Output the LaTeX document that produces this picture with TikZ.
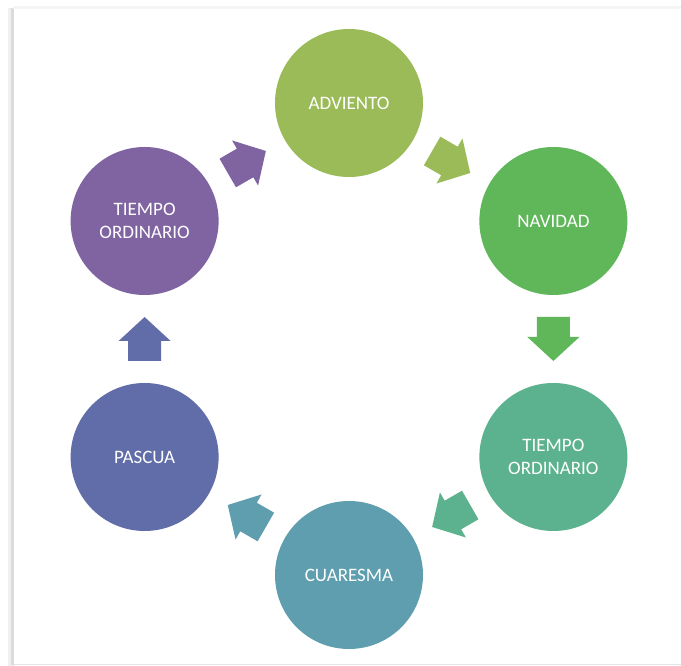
\documentclass[tikz,border=0pt]{standalone}
\usepackage{fontspec}
\setmainfont{Carlito}
\usetikzlibrary{calc}

\definecolor{cA}{HTML}{9BBB59}
\definecolor{cB}{HTML}{5FB75A}
\definecolor{cC}{HTML}{5CB28E}
\definecolor{cD}{HTML}{5E9EAE}
\definecolor{cE}{HTML}{616DA8}
\definecolor{cF}{HTML}{8064A2}

\begin{document}
\begin{tikzpicture}[x=1pt,y=1pt,
  etapa/.style={circle,minimum size=148pt,inner sep=0pt,text=white,align=center,
    font=\fontsize{19}{23}\selectfont}]
\useasboundingbox (-349,-327) rectangle (332,339);
% marco con sombra
\fill[black!6] (-341,-327) rectangle (-334,331);
\fill[black!14] (-338,-326) rectangle (-335,331);
\fill[black!4] (-336,330) rectangle (332,333);
\fill[white] (-335,-325) rectangle (332,330);
\draw[black!10,line width=0.8pt] (-335,-325.5) -- (332,-325.5);
% etapas del ciclo
\foreach \i/\txt/\col in {0/ADVIENTO/cA,1/NAVIDAD/cB,2/{TIEMPO\\ORDINARIO}/cC,
  3/CUARESMA/cD,4/PASCUA/cE,5/{TIEMPO\\ORDINARIO}/cF}{
  \node[etapa,fill=\col] (c\i) at ({90-60*\i}:236) {\txt};
}
% flechas entre etapas (sentido horario)
\foreach \i/\col in {0/cA,1/cB,2/cC,3/cD,4/cE,5/cF}{
  \pgfmathtruncatemacro\j{mod(\i+1,6)}
  \fill[\col,shift={($(c\i)!0.5!(c\j)$)},rotate=-30-60*\i]
    (-22,-16.5) -- (-2,-16.5) -- (-2,-26) -- (22,0) -- (-2,26) -- (-2,16.5) -- (-22,16.5) -- cycle;
}
\end{tikzpicture}
\end{document}
